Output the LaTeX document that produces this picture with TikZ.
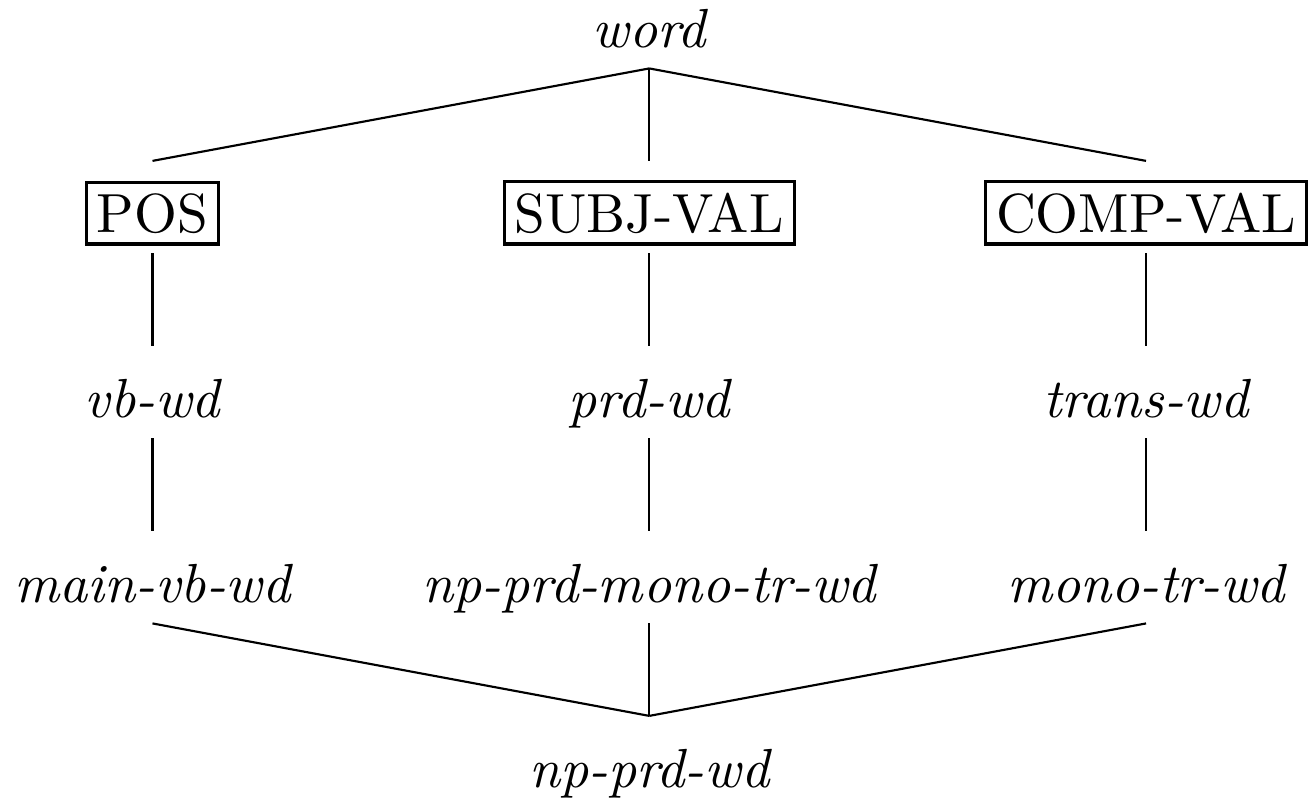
\documentclass[tikz,border=0pt]{standalone}
\usepackage{tikz}
\usetikzlibrary{positioning}
\tikzset{
  tipo/.style={font=\fontsize{10.3}{12}\selectfont\itshape,inner sep=0pt,anchor=base},
  caja/.style={draw,font=\fontsize{10.3}{12}\selectfont,line width=0.6pt,inner sep=2pt,anchor=base},
  rama/.style={line width=0.4pt}
}

\begin{document}
\begin{tikzpicture}
\useasboundingbox (-4.266,-4.947) rectangle (4.328,0.309);
\node[tipo] (word) at (0,0) {word};
\node[caja] (pos) at (-3.264,-1.2155) {POS};
\node[caja] (subj) at (0,-1.2155) {SUBJ-VAL};
\node[caja] (comp) at (3.264,-1.2155) {COMP-VAL};
\node[tipo] (vb) at (-3.264,-2.431) {vb-wd};
\node[tipo] (prd) at (0,-2.431) {prd-wd};
\node[tipo] (trans) at (3.264,-2.431) {trans-wd};
\node[tipo] (mainvb) at (-3.264,-3.6465) {main-vb-wd};
\node[tipo] (npmono) at (0,-3.6465) {np-prd-mono-tr-wd};
\node[tipo] (mono) at (3.264,-3.6465) {mono-tr-wd};
\node[tipo] (npprd) at (0,-4.862) {np-prd-wd};
% ramas del arbol
\foreach \a/\b in {word/pos,word/subj,word/comp,pos/vb,subj/prd,comp/trans,
  vb/mainvb,prd/npmono,trans/mono,mainvb/npprd,npmono/npprd,mono/npprd}
  \draw[rama] ([yshift=-4pt]\a.base) -- ([yshift=13.3pt]\b.base);
\end{tikzpicture}
\end{document}
